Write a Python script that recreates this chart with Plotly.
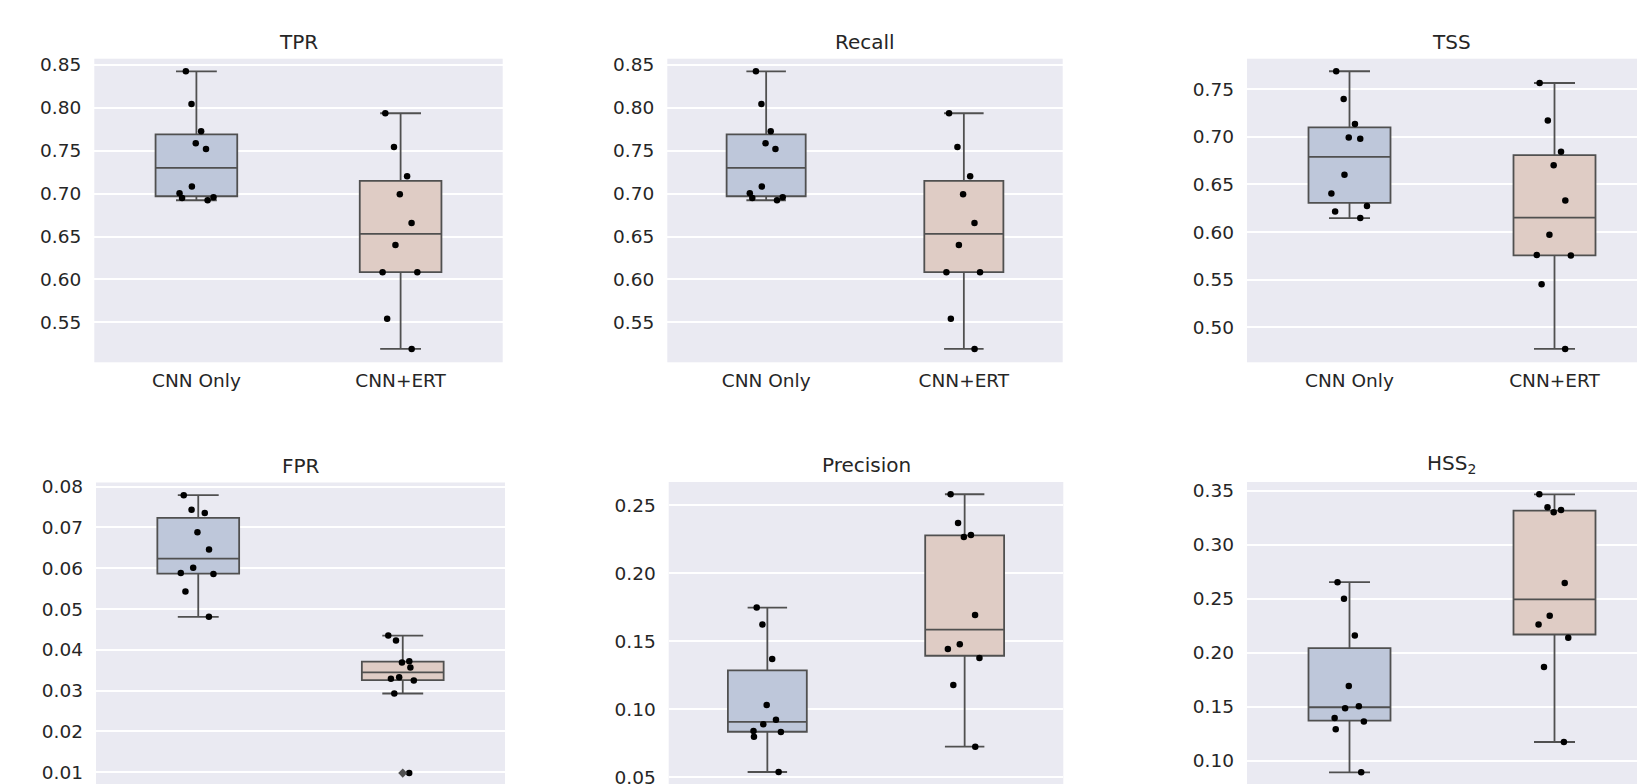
import numpy as np
import plotly.graph_objects as go

categories = ["CNN Only", "CNN+ERT"]

tpr_cnn = [0.8426, 0.8045, 0.7727, 0.7587, 0.7521, 0.7082, 0.7004, 0.6958, 0.6950, 0.6923]
tpr_ert = [0.7937, 0.7544, 0.7202, 0.6993, 0.6659, 0.6402, 0.6084, 0.6084, 0.5543, 0.5190]
recall_cnn = list(tpr_cnn)
recall_ert = list(tpr_ert)
tss_cnn = [0.7689, 0.7399, 0.7136, 0.6993, 0.6979, 0.6601, 0.6406, 0.6273, 0.6217, 0.6147]
tss_ert = [0.7566, 0.7171, 0.6843, 0.6703, 0.6332, 0.5972, 0.5759, 0.5755, 0.5451, 0.4773]
fpr_cnn = [0.0779, 0.0743, 0.0735, 0.0688, 0.0646, 0.0601, 0.0588, 0.0586, 0.0543, 0.0481]
fpr_ert = [0.0435, 0.0423, 0.0372, 0.0369, 0.0357, 0.0333, 0.0329, 0.0325, 0.0293, 0.0098]
prec_cnn = [0.1748, 0.1623, 0.1370, 0.1032, 0.0924, 0.0890, 0.0841, 0.0833, 0.0799, 0.0539]
prec_ert = [0.2581, 0.2370, 0.2282, 0.2267, 0.1694, 0.1478, 0.1444, 0.1377, 0.1179, 0.0725]
hss_cnn = [0.2653, 0.2499, 0.2159, 0.1692, 0.1504, 0.1485, 0.1396, 0.1362, 0.1291, 0.0892]
hss_ert = [0.3466, 0.3346, 0.3321, 0.3299, 0.2644, 0.2341, 0.2261, 0.2137, 0.1868, 0.1173]

titles = ["TPR", "Recall", "TSS", "FPR", "Precision", "HSS<sub>2</sub>"]
panels = [
    (tpr_cnn, tpr_ert),
    (recall_cnn, recall_ert),
    (tss_cnn, tss_ert),
    (fpr_cnn, fpr_ert),
    (prec_cnn, prec_ert),
    (hss_cnn, hss_ert),
]

W, H = 1645, 784
OFF = 8  # page body margin
# plot-area boxes in page pixels: (left, right, top, bottom)
boxes_px = [
    (94.3, 502.7, 58.7, 362.3),
    (667.3, 1062.7, 58.7, 362.3),
    (1247.0, 1653.0, 58.7, 362.3),
    (96.0, 505.0, 482.5, 792.0),
    (668.7, 1063.3, 482.0, 792.0),
    (1247.0, 1653.0, 482.0, 792.0),
]
y_ranges = [
    (0.5034, 0.8573),
    (0.5034, 0.8573),
    (0.4632, 0.7821),
    (0.00517, 0.0810),
    (0.0392, 0.2671),
    (0.0710, 0.3580),
]
x_ranges = [
    (-0.5, 1.5), (-0.5, 1.5), (-0.5, 1.4805),
    (-0.5, 1.5), (-0.5, 1.5), (-0.5, 1.4805),
]
title_cx = [298.5, 865.0, 1451.0, 300.5, 866.0, 1451.0]
dticks = [0.05, 0.05, 0.05, 0.01, 0.05, 0.05]

fills = ["rgb(190,199,218)", "rgb(223,204,197)"]
edge = "rgb(80,80,80)"
text_col = "#262626"
FONT = "DejaVu Sans"

fig = go.Figure()
annotations = []

for i, (data_pair, title) in enumerate(zip(panels, titles)):
    ax = "" if i == 0 else str(i + 1)
    xa, ya = "x" + ax, "y" + ax
    for j, vals in enumerate(data_pair):
        v = np.array(vals)
        q1, med, q3 = np.percentile(v, [25, 50, 75])
        iqr = q3 - q1
        lf = v[v >= q1 - 1.5 * iqr].min()
        uf = v[v <= q3 + 1.5 * iqr].max()
        fig.add_trace(go.Box(
            x=[categories[j]], q1=[q1], median=[med], q3=[q3],
            lowerfence=[lf], upperfence=[uf],
            width=0.4, whiskerwidth=0.5, boxpoints=False,
            fillcolor=fills[j], line=dict(color=edge, width=1.8),
            xaxis=xa, yaxis=ya, showlegend=False,
        ))
        out = v[(v < lf) | (v > uf)]
        if len(out):
            fig.add_trace(go.Scatter(
                x=[categories[j]] * len(out), y=out, mode="markers",
                marker=dict(symbol="diamond", size=7, color=edge),
                xaxis=xa, yaxis=ya, showlegend=False,
            ))
        fig.add_trace(go.Box(
            x=[categories[j]] * len(v), y=v, width=0.4,
            boxpoints="all", jitter=0.55, pointpos=0,
            fillcolor="rgba(0,0,0,0)", line=dict(color="rgba(0,0,0,0)", width=0),
            marker=dict(color="black", size=6.5),
            xaxis=xa, yaxis=ya, showlegend=False,
        ))

    l, r, t, b = boxes_px[i]
    xdom = [(l - OFF) / W, min((r - OFF) / W, 1.0)]
    ydom = [max(1 - (b - OFF) / H, 0.0), 1 - (t - OFF) / H]
    top_row = i < 3
    fig.layout["xaxis" + ax] = dict(
        domain=xdom, anchor=ya, type="category",
        categoryorder="array", categoryarray=categories,
        range=list(x_ranges[i]), showgrid=False, zeroline=False,
        showticklabels=top_row, ticks="", ticklabelstandoff=5,
        tickfont=dict(family=FONT, size=18.5, color=text_col),
        showline=False, automargin=False, fixedrange=True,
    )
    fig.layout["yaxis" + ax] = dict(
        domain=ydom, anchor=xa, range=list(y_ranges[i]),
        dtick=dticks[i], tick0=0, tickformat=".2f",
        showgrid=True, gridcolor="white", gridwidth=1.5,
        zeroline=False, ticks="", ticklabelstandoff=12,
        tickfont=dict(family=FONT, size=18.5, color=text_col),
        showline=False, automargin=False, fixedrange=True,
    )
    annotations.append(dict(
        text=title, x=(title_cx[i] - OFF) / W,
        y=ydom[1], xref="paper", yref="paper",
        xanchor="center", yanchor="bottom", yshift=3, showarrow=False,
        font=dict(family=FONT, size=20, color=text_col),
    ))

fig.update_layout(
    width=W, height=H, margin=dict(l=0, r=0, t=0, b=0),
    paper_bgcolor="white", plot_bgcolor="#eaeaf2",
    boxmode="overlay", annotations=annotations,
    font=dict(family=FONT, color=text_col),
)

fig.write_html("out.html")
